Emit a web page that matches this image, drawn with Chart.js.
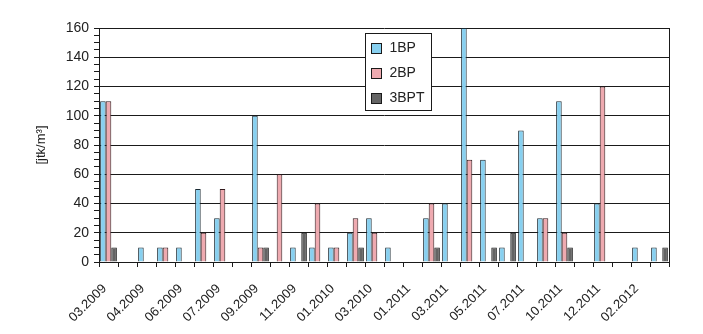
<!DOCTYPE html>
<html>
<head>
<meta charset="utf-8">
<script src="https://cdn.jsdelivr.net/npm/chart.js@4"></script>
<style>
  html, body { margin: 0; padding: 0; background: #fff; }
  #wrap { width: 703px; height: 334px; }
</style>
</head>
<body>
<div id="wrap"><canvas id="dustChart"></canvas></div>
<script>
// sampling dates (only every other one is labelled on the axis)
const months = [
  "03.2009", "03.2009", "04.2009", "05.2009", "06.2009", "06.2009",
  "07.2009", "08.2009", "09.2009", "10.2009", "11.2009", "12.2009",
  "01.2010", "02.2010", "03.2010", "04.2010", "01.2011", "02.2011",
  "03.2011", "04.2011", "05.2011", "06.2011", "07.2011", "09.2011",
  "10.2011", "11.2011", "12.2011", "01.2012", "02.2012", "03.2012",
];

const bp1 = [110, null, 10, 10, 10, 50, 30, null, 100, null, 10, 10, 10, 20, 30, 10, null, 30, 40, 160, 70, 10, 90, 30, 110, null, 40, null, 10, 10];
const bp2 = [110, null, null, 10, null, 20, 50, null, 10, 60, null, 40, 10, 30, 20, null, null, 40, null, 70, null, null, null, 30, 20, null, 120, null, null, null];
const bpt3 = [10, null, null, null, null, null, null, null, 10, null, 20, null, null, 10, null, null, null, 10, null, null, 10, 20, null, null, 10, null, null, null, null, 10];

const FONT = "'Liberation Sans', Arial, sans-serif";

// legend box inside the plot + right frame line
const boxLegend = {
  id: "boxLegend",
  afterDraw(chart) {
    const ctx = chart.ctx;
    const area = chart.chartArea;
    ctx.save();
    ctx.strokeStyle = "#1a1a1a";
    ctx.lineWidth = 1;
    ctx.beginPath();
    ctx.moveTo(Math.round(area.right) + 0.5, area.top);
    ctx.lineTo(Math.round(area.right) + 0.5, area.bottom);
    ctx.stroke();

    const x = 365.5, y = 33.5, w = 66, h = 77;
    ctx.fillStyle = "#fff";
    ctx.fillRect(x, y, w, h);
    ctx.strokeRect(x, y, w, h);
    ctx.font = "14px " + FONT;
    ctx.textBaseline = "middle";
    chart.data.datasets.forEach((ds, i) => {
      const cy = y + 15 + i * 25;
      ctx.fillStyle = ds.backgroundColor;
      ctx.fillRect(x + 6, cy - 5, 10, 10);
      ctx.strokeRect(x + 6, cy - 5, 10, 10);
      ctx.fillStyle = "#222";
      ctx.fillText(ds.label, x + 24, cy);
    });
    ctx.restore();
  },
};

new Chart(document.getElementById("dustChart"), {
  type: "bar",
  data: {
    labels: months,
    datasets: [
      {
        label: "1BP",
        data: bp1,
        backgroundColor: "rgb(135, 208, 240)",
        borderColor: "#1a2a33",
        borderWidth: 1,
      },
      {
        label: "2BP",
        data: bp2,
        backgroundColor: "rgb(238, 170, 176)",
        borderColor: "#331a1d",
        borderWidth: 1,
      },
      {
        label: "3BPT",
        data: bpt3,
        backgroundColor: "rgb(100, 100, 100)",
        borderColor: "#1a1a1a",
        borderWidth: 1,
      },
    ],
  },
  options: {
    responsive: true,
    maintainAspectRatio: false,
    animation: false,
    layout: {
      padding: { top: 28, right: 34, left: 0, bottom: 0 },
    },
    datasets: {
      bar: {
        categoryPercentage: 0.88,
        barPercentage: 1.0,
      },
    },
    plugins: {
      legend: { display: false },
      tooltip: { enabled: false },
    },
    scales: {
      x: {
        grid: {
          display: true,
          drawOnChartArea: false,
          drawTicks: true,
          tickLength: 5,
          color: "#1a1a1a",
        },
        border: { color: "#1a1a1a", width: 1 },
        ticks: {
          autoSkip: false,
          maxRotation: 45,
          minRotation: 45,
          padding: 14,
          labelOffset: -4,
          color: "#222",
          font: { family: FONT, size: 13 },
          callback: function (value, index) {
            return index % 2 === 0 ? this.getLabelForValue(value) : "";
          },
        },
        afterFit: (scale) => {
          scale.height = 72;
        },
      },
      y: {
        min: 0,
        max: 160,
        grid: {
          color: (c) => (c.tick && c.tick.value % 20 === 0 ? "#1a1a1a" : "rgba(0,0,0,0)"),
          tickColor: "#1a1a1a",
          tickLength: 5,
        },
        border: { color: "#1a1a1a", width: 1 },
        ticks: {
          stepSize: 5,
          autoSkip: false,
          padding: 5,
          color: "#222",
          font: { family: FONT, size: 14 },
          callback: (v) => (v % 20 === 0 ? v : ""),
        },
        title: {
          display: true,
          text: "[jtk/m³]",
          color: "#222",
          font: { family: FONT, size: 13 },
          padding: { top: 34, bottom: 0 },
        },
        afterFit: (scale) => {
          scale.width = 99;
        },
      },
    },
  },
  plugins: [boxLegend],
});
</script>
</body>
</html>
